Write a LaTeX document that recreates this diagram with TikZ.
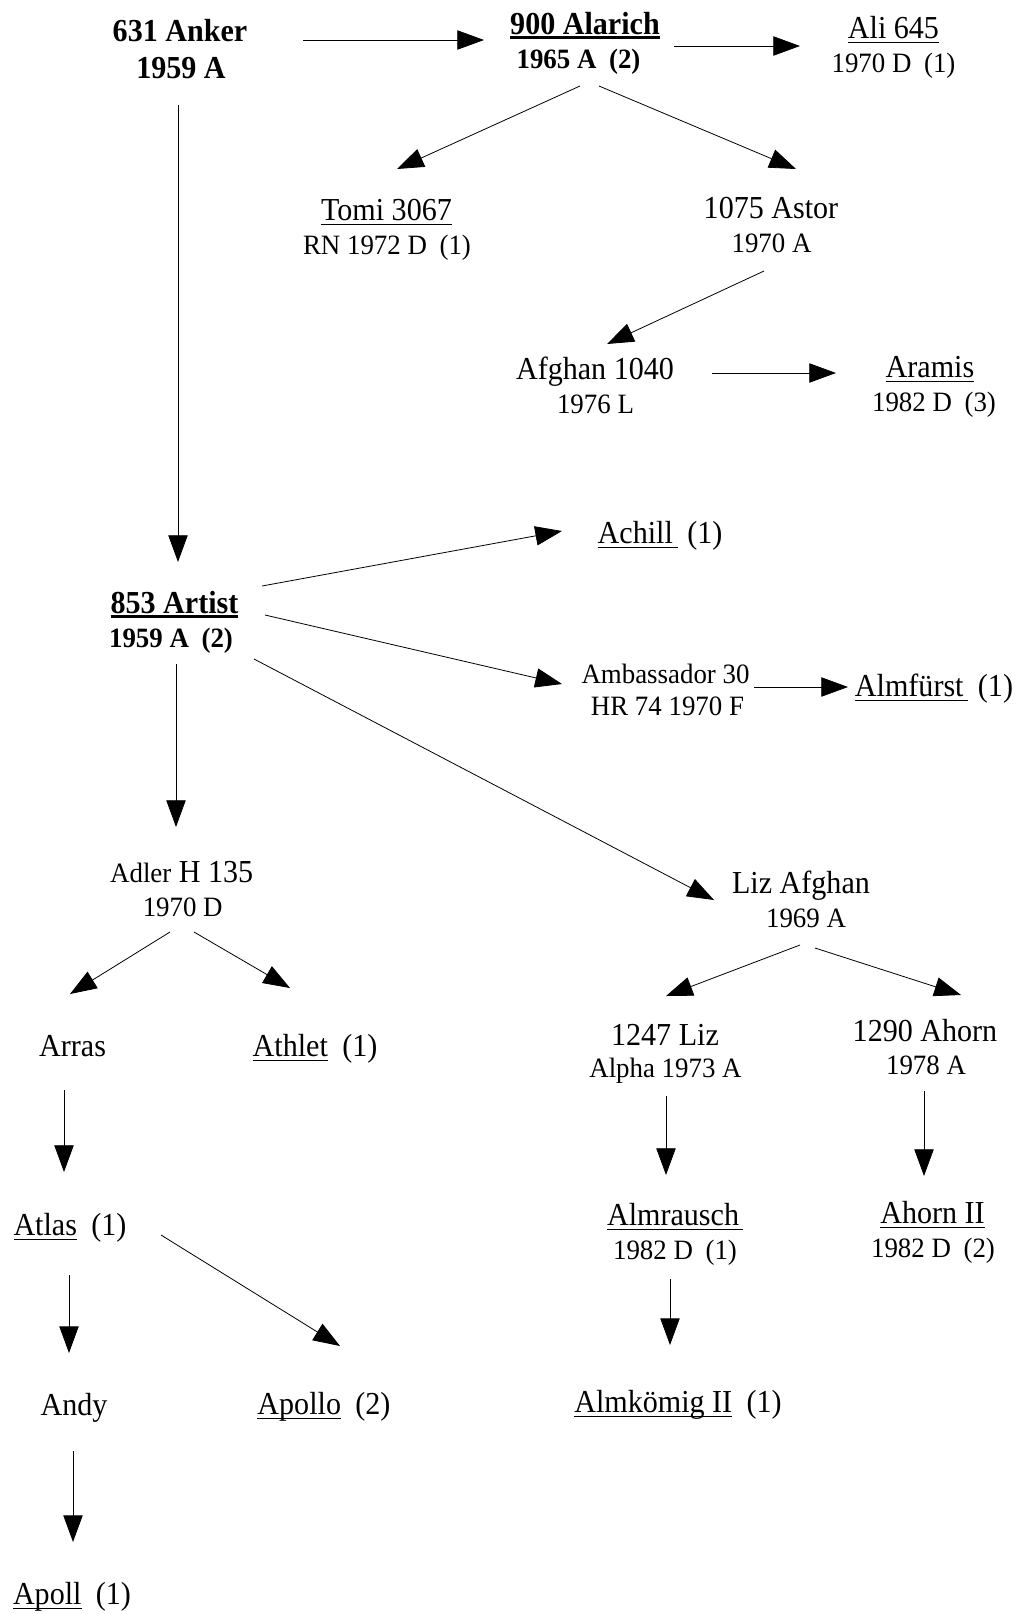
\documentclass[tikz,border=0pt]{standalone}
\usepackage{fontspec}
\setmainfont{Liberation Serif}[FakeStretch=0.94]
\newfontfamily\smallserif{Liberation Serif}[FakeStretch=0.96]
\usetikzlibrary{arrows.meta}
\newcommand\BigF{\fontsize{24pt}{26pt}\selectfont}
\newcommand\SmF{\smallserif\fontsize{21pt}{24pt}\selectfont}
\newcommand\ulx[2][1.1pt]{\begingroup\setbox0\hbox{#2}\rlap{\rule[-3.8pt]{\wd0}{#1}}\box0\endgroup}
\newcommand\gp{\hspace{0.45em}}
\tikzset{
  big/.style={inner sep=0pt, outer sep=0pt, anchor=base, font=\BigF},
  sm/.style={inner sep=0pt, outer sep=0pt, anchor=base, font=\SmF},
  arr/.style={-{Triangle[length=20pt,width=14.5pt]}, line width=0.6pt, draw=black}
}
\begin{document}
\begin{tikzpicture}[x=0.75pt,y=-0.75pt]
\useasboundingbox[fill=white] (0,0) rectangle (1020,1614);
% nodes
\node[big] (anker) at (180,41) {\bfseries 631 Anker};
\node[big] (anker2) at (181,78) {\bfseries 1959 A};
\node[big] (alarich) at (585,34) {\bfseries\ulx[2.2pt]{900 Alarich}};
\node[sm] (alarich2) at (578.5,68) {\bfseries 1965 A\gp(2)};
\node[big] (ali) at (893.5,38) {\ulx{Ali 645}};
\node[sm] (ali2) at (893.5,72) {1970 D\gp(1)};
\node[big] (tomi) at (386.5,220) {\ulx{Tomi 3067}};
\node[sm] (tomi2) at (387,254) {RN 1972 D\gp(1)};
\node[big] (astor) at (771,218) {1075 Astor};
\node[sm] (astor2) at (771.5,252) {1970 A};
\node[big] (afghan) at (595,379) {Afghan 1040};
\node[sm] (afghan2) at (595.5,413) {1976 L};
\node[big] (aramis) at (930,377) {\ulx{Aramis}};
\node[sm] (aramis2) at (934,411) {1982 D\gp(3)};
\node[big] (achill) at (660,543) {\ulx{Achill\hspace{0.15em}}\hspace{0.3em}(1)};
\node[big] (artist) at (174.5,613) {\bfseries\ulx[2.2pt]{853 Artist}};
\node[sm] (artist2) at (171,647) {\bfseries 1959 A\gp(2)};
\node[sm] (amb) at (665.5,683) {Ambassador 30};
\node[sm] (amb2) at (667.5,715) {HR 74 1970 F};
\node[big] (almf) at (934,696) {\ulx{Almfürst\hspace{0.15em}}\hspace{0.3em}(1)};
\node[big] (adler) at (181.7,882) {{\SmF Adler} H 135};
\node[sm] (adler2) at (182.7,916) {1970 D};
\node[big] (liz) at (801,893) {Liz Afghan};
\node[sm] (liz2) at (806,927) {1969 A};
\node[big] (arras) at (72.6,1056) {Arras};
\node[big] (athlet) at (315,1056) {\ulx{Athlet}\gp(1)};
\node[big] (liza) at (665,1045) {1247 Liz};
\node[sm] (liza2) at (665.5,1077) {Alpha 1973 A};
\node[big] (ahorn) at (925,1041) {1290 Ahorn};
\node[sm] (ahorn2) at (926,1074) {1978 A};
\node[big] (atlas) at (70,1235) {\ulx{Atlas}\gp(1)};
\node[big] (almr) at (675,1225) {\ulx{Almrausch\hspace{0.12em}}};
\node[sm] (almr2) at (675,1259) {1982 D\gp(1)};
\node[big] (ahornii) at (932.5,1223) {\ulx{Ahorn II}};
\node[sm] (ahornii2) at (933,1257) {1982 D\gp(2)};
\node[big] (andy) at (74,1415) {Andy};
\node[big] (apollo) at (324,1414) {\ulx{Apollo}\gp(2)};
\node[big] (almk) at (678,1412) {\ulx{Almkömig II}\gp(1)};
\node[big] (apoll) at (72,1604) {\ulx{Apoll}\gp(1)};
% connectors
\draw[arr] ([shift={(123,-1)}]anker.base) -- ([shift={(-101,6)}]alarich.base);
\draw[arr] ([shift={(89,12)}]alarich.base) -- ([shift={(-93.5,8)}]ali.base);
\draw[arr] ([shift={(1.5,18)}]alarich2.base) -- ([shift={(10.5,-51)}]tomi.base);
\draw[arr] ([shift={(20.5,18)}]alarich2.base) -- ([shift={(25,-49)}]astor.base);
\draw[arr] ([shift={(-7.5,19)}]astor2.base) -- ([shift={(12,-35)}]afghan.base);
\draw[arr] ([shift={(117,-6)}]afghan.base) -- ([shift={(-94,-4)}]aramis.base);
\draw[arr] ([shift={(-3,27)}]anker2.base) -- ([shift={(3.5,-51)}]artist.base);
\draw[arr] ([shift={(87.5,-27)}]artist.base) -- ([shift={(-98,-12)}]achill.base);
\draw[arr] ([shift={(90.5,2)}]artist.base) -- ([shift={(-103.5,1)}]amb.base);
\draw[arr] ([shift={(88.5,4)}]amb.base) -- ([shift={(-86,-9)}]almf.base);
\draw[arr] ([shift={(83,12)}]artist2.base) -- ([shift={(-87,7)}]liz.base);
\draw[arr] ([shift={(5,17)}]artist2.base) -- ([shift={(-5.7,-55)}]adler.base);
\draw[arr] ([shift={(-12.7,16)}]adler2.base) -- ([shift={(-2.6,-62)}]arras.base);
\draw[arr] ([shift={(11.3,16)}]adler2.base) -- ([shift={(-25,-68)}]athlet.base);
\draw[arr] ([shift={(-6,18)}]liz2.base) -- ([shift={(1,-49)}]liza.base);
\draw[arr] ([shift={(9,21)}]liz2.base) -- ([shift={(36,-46)}]ahorn.base);
\draw[arr] ([shift={(-8.6,34)}]arras.base) -- ([shift={(-6,-63)}]atlas.base);
\draw[arr] ([shift={(0.5,19)}]liza2.base) -- ([shift={(-9,-50)}]almr.base);
\draw[arr] ([shift={(-2,17)}]ahorn2.base) -- ([shift={(-8.5,-47)}]ahornii.base);
\draw[arr] ([shift={(-1,40)}]atlas.base) -- ([shift={(-5,-62)}]andy.base);
\draw[arr] ([shift={(91,0)}]atlas.base) -- ([shift={(16,-68)}]apollo.base);
\draw[arr] ([shift={(-5,20)}]almr2.base) -- ([shift={(-8,-67)}]almk.base);
\draw[arr] ([shift={(-1,36)}]andy.base) -- ([shift={(1,-62)}]apoll.base);
\end{tikzpicture}
\end{document}
